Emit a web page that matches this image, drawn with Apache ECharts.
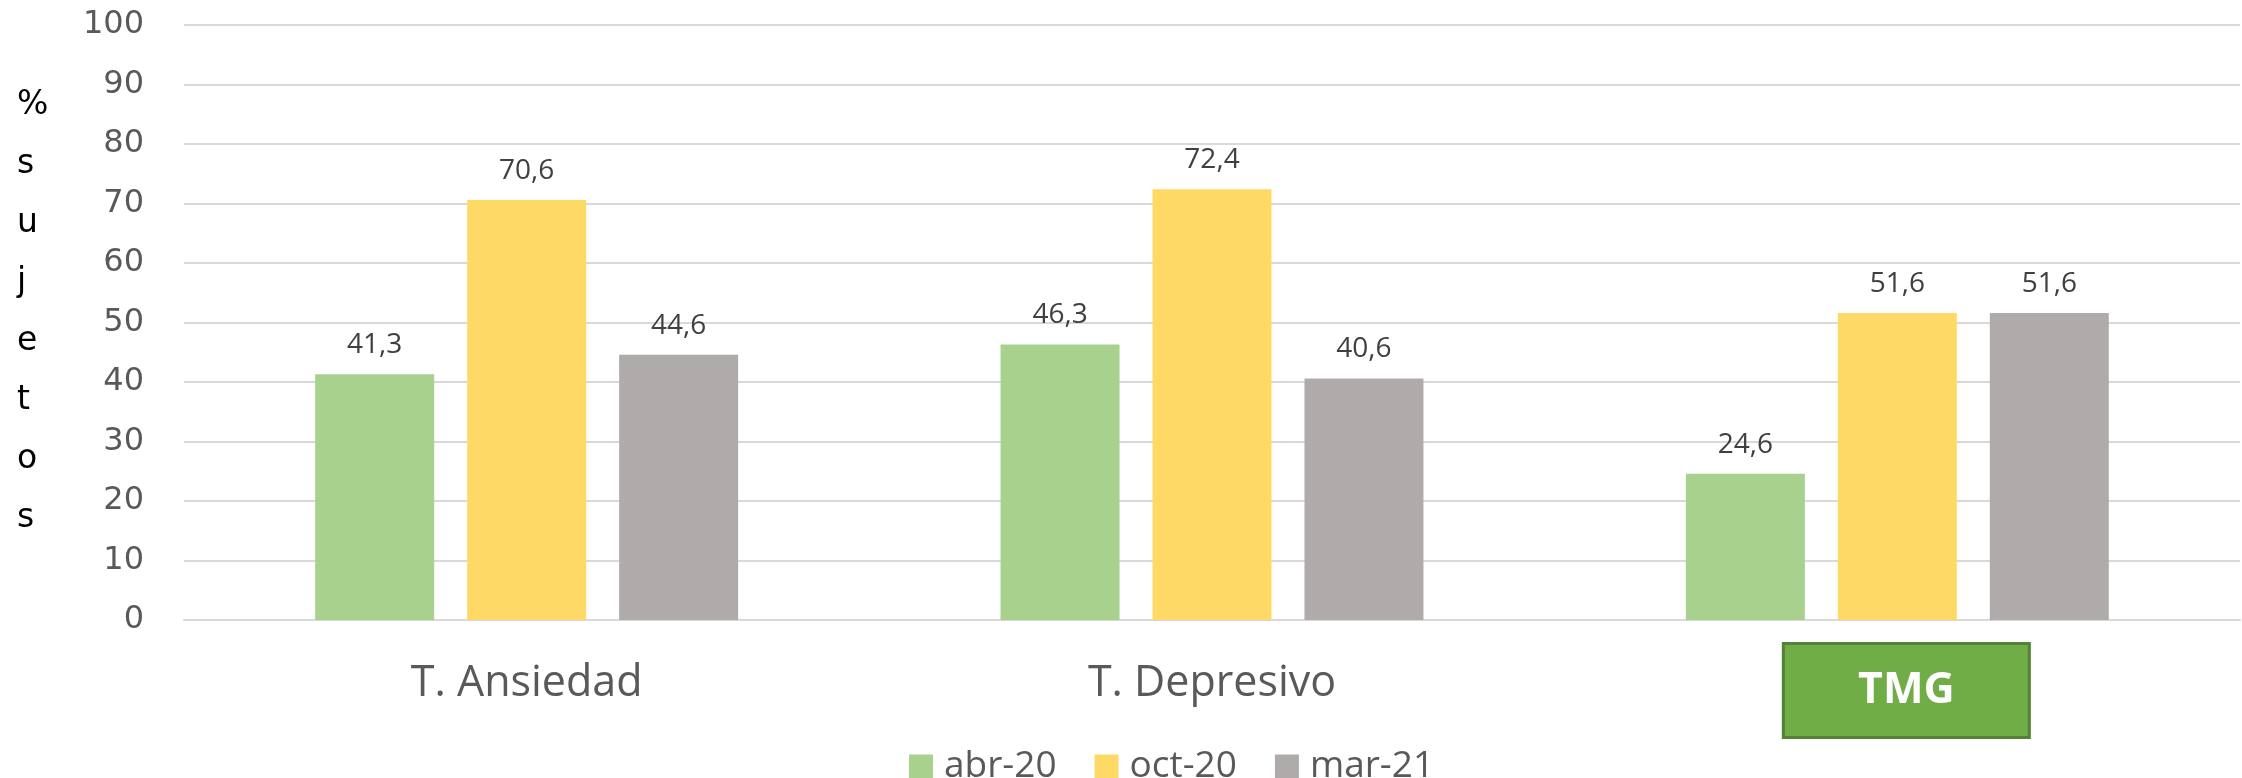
<!DOCTYPE html>
<html>
<head>
<meta charset="utf-8">
<script src="https://cdn.jsdelivr.net/npm/echarts@6/dist/echarts.min.js"></script>
<style>
  html, body { margin: 0; padding: 0; background: #ffffff; }
  #chart { width: 2242px; height: 778px; }
</style>
</head>
<body>
<div id="chart"></div>
<script>
// Categories and survey waves
const categories = ['T. Ansiedad', 'T. Depresivo', 'TMG'];
const waves = ['abr-20', 'oct-20', 'mar-21'];

// Percentage of subjects per wave
const abr20 = [41.3, 46.3, 24.6];
const oct20 = [70.6, 72.4, 51.6];
const mar21 = [44.6, 40.6, 51.6];

// Y axis ticks
const yMin = 0;
const yMax = 100;
const yStep = 10;

const yTitle = ['%', 's', 'u', 'j', 'e', 't', 'o', 's'];

const colors = ['#A9D18E', '#FFD966', '#AFABAB'];
const seriesValues = [abr20, oct20, mar21];

const chart = echarts.init(document.getElementById('chart'), null, { renderer: 'canvas' });

const fmt = v => v.toFixed(1).replace('.', ',');

const option = {
  animation: false,
  backgroundColor: '#ffffff',
  grid: { left: 184, right: 2, top: 25, bottom: 158, containLabel: false },
  legend: {
    data: waves,
    left: 909,
    top: 748,
    padding: 0,
    itemWidth: 24,
    itemHeight: 24,
    itemGap: 38,
    icon: 'rect',
    textStyle: {
      fontFamily: 'Open Sans',
      fontSize: 37,
      color: '#595959',
      padding: [0, 0, 0, 6]
    }
  },
  graphic: [{
    type: 'text',
    left: 17,
    top: 76,
    style: {
      text: yTitle.join('\n'),
      fontFamily: 'DejaVu Sans',
      fontSize: 33,
      lineHeight: 59,
      fill: '#000000',
      align: 'left'
    }
  }],
  xAxis: {
    type: 'category',
    data: categories,
    axisTick: { show: false },
    axisLine: { lineStyle: { color: '#D9D9D9', width: 2 } },
    axisLabel: {
      interval: 0,
      margin: 22,
      formatter: v => v === 'TMG' ? '{sp|}{box|' + v + '}' : '{n|' + v + '}',
      rich: {
        n: {
          fontFamily: 'Open Sans',
          fontSize: 43,
          color: '#595959',
          lineHeight: 84
        },
        sp: { width: 18, height: 97 },
        box: {
          fontFamily: 'Open Sans',
          fontSize: 43,
          fontWeight: 'bold',
          color: '#ffffff',
          backgroundColor: '#70AD47',
          borderColor: '#548235',
          borderWidth: 3,
          width: 243,
          height: 91,
          lineHeight: 91,
          align: 'center'
        }
      }
    }
  },
  yAxis: {
    type: 'value',
    min: yMin,
    max: yMax,
    interval: yStep,
    axisLine: { show: false },
    axisTick: { show: false },
    splitLine: { lineStyle: { color: '#D9D9D9', width: 2 } },
    axisLabel: {
      margin: 40,
      align: 'right',
      fontFamily: 'DejaVu Sans',
      fontSize: 32,
      color: '#595959'
    }
  },
  series: waves.map((name, i) => ({
    name: name,
    type: 'bar',
    data: seriesValues[i],
    barWidth: 119,
    barGap: '27.7%',
    itemStyle: { color: colors[i] },
    label: {
      show: true,
      position: 'top',
      distance: 15,
      formatter: p => fmt(p.value),
      fontFamily: 'Open Sans',
      fontSize: 28,
      color: '#404040'
    }
  }))
};

chart.setOption(option);
</script>
</body>
</html>
